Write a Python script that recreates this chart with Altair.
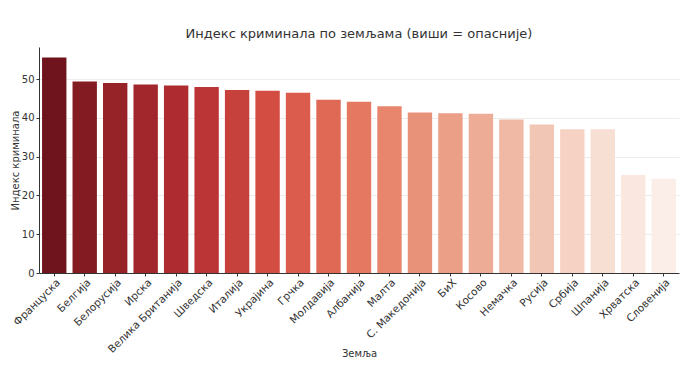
import colorsys
import numpy as np
import pandas as pd
import altair as alt

countries = ["Француска", "Белгија", "Белорусија", "Ирска", "Велика Британија",
             "Шведска", "Италија", "Украјина", "Грчка", "Молдавија", "Албанија",
             "Малта", "С. Македонија", "БиХ", "Косово", "Немачка", "Русија",
             "Србија", "Шпанија", "Хрватска", "Словенија"]
values = [55.6, 49.4, 49.0, 48.6, 48.4, 48.0, 47.2, 47.0, 46.5, 44.7, 44.2,
          43.0, 41.4, 41.2, 41.1, 39.6, 38.3, 37.1, 37.1, 25.3, 24.3]
y_ticks = [0, 10, 20, 30, 40, 50]

# Reds_r palette (ColorBrewer anchors), desaturated like seaborn bars
anchors = ["#fff5f0", "#fee0d2", "#fcbba1", "#fc9272", "#fb6a4a",
           "#ef3b2c", "#cb181d", "#a50f15", "#67000d"]
anc = np.array([[int(h[i:i + 2], 16) / 255 for i in (1, 3, 5)] for h in anchors])
pos = np.linspace(0, 1, len(anchors))
n = len(countries)
ts = 1 - np.linspace(0, 1, n + 2)[1:-1]
colors = []
for t in ts:
    rgb = [np.interp(t, pos, anc[:, c]) for c in range(3)]
    h, l, s = colorsys.rgb_to_hls(*rgb)
    r, g, b = colorsys.hls_to_rgb(h, l, s * 0.75)
    colors.append("#%02x%02x%02x" % (round(r * 255), round(g * 255), round(b * 255)))

df = pd.DataFrame({"Земља": countries, "Индекс": values})

FONT = "DejaVu Sans"

chart = alt.Chart(df).mark_bar().encode(
    x=alt.X("Земља:N", sort=None,
            scale=alt.Scale(paddingInner=0.2, paddingOuter=0.1),
            axis=alt.Axis(title="Земља", labelAngle=-45, labelAlign="right",
                          labelBaseline="top", labelPadding=1, labelOffset=1,
                          labelFontSize=10.5, tickSize=3,
                          titleY=80, titleBaseline="middle", grid=False)),
    y=alt.Y("Индекс:Q", scale=alt.Scale(domain=[0, 58.3], nice=False),
            axis=alt.Axis(title="Индекс криминала", values=y_ticks, tickSize=3,
                          grid=True, titleX=-24, titleY=113,
                          titleBaseline="middle", titleAlign="center")),
    color=alt.Color("Земља:N", sort=None,
                    scale=alt.Scale(domain=countries, range=colors), legend=None),
).properties(
    width=640, height=226,
    title=alt.TitleParams("Индекс криминала по земљама (виши = опасније)",
                          fontSize=13, font=FONT, fontWeight="normal",
                          color="#333333", offset=6),
    autosize=alt.AutoSizeParams(type="none"),
    padding={"left": 31, "top": 39, "right": 13, "bottom": 90},
).configure_view(stroke=None).configure_axis(
    labelFont=FONT, titleFont=FONT, labelFontSize=10, titleFontSize=10,
    labelColor="#333333", titleColor="#333333", titleFontWeight="normal",
    domainColor="#333333", tickColor="#333333", gridColor="#e8e8e8",
    gridWidth=0.8, domainWidth=1,
)

chart.save("out.html", embed_options={"renderer": "svg", "actions": False})
